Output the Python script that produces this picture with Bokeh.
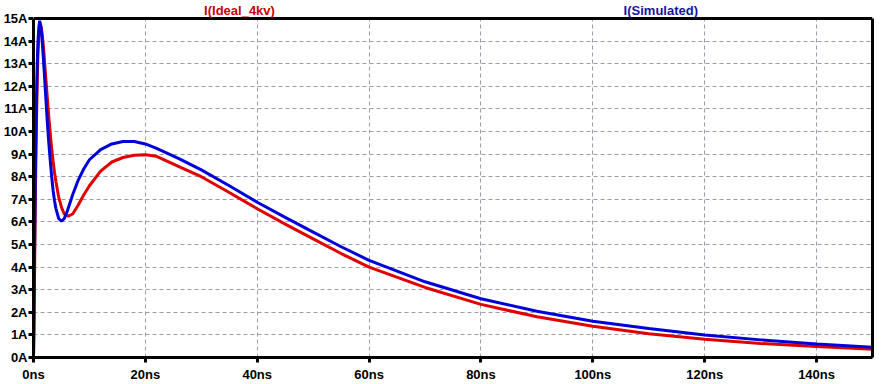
from bokeh.plotting import figure
from bokeh.models import Range1d, FixedTicker, Label, LinearAxis, BoxAnnotation, Span
from bokeh.embed import file_html
from bokeh.resources import INLINE

# time in ns, current in A
t_sim = [0, 0.1, 0.2, 0.35, 0.5, 0.65, 0.8, 0.95, 1.1, 1.3, 1.5, 1.75, 2.0, 2.25, 2.5, 2.75, 3.0, 3.25,
         3.5, 3.75, 4.0, 4.5, 5.0, 5.5, 6.0, 7.0, 8.0, 9.0, 10, 12, 14, 16, 18, 20, 22, 26, 30, 35,
         40, 45, 50, 55, 60, 70, 80, 90, 100, 110, 120, 130, 140, 150]
i_sim = [0, 2.5, 5.0, 8.5, 11.0, 12.8, 14.0, 14.6, 14.9, 14.7, 14.2, 13.3, 12.3, 11.3, 10.3, 9.45, 8.7, 8.0,
         7.4, 6.95, 6.6, 6.15, 6.03, 6.15, 6.45, 7.2, 7.85, 8.35, 8.75, 9.2, 9.45, 9.56, 9.56, 9.45, 9.25, 8.8, 8.3, 7.6,
         6.87, 6.2, 5.55, 4.9, 4.3, 3.35, 2.6, 2.05, 1.6, 1.28, 1.0, 0.78, 0.6, 0.45]

t_ideal = [0, 0.1, 0.2, 0.35, 0.5, 0.65, 0.8, 1.0, 1.2, 1.4, 1.6, 1.8, 2.0, 2.25, 2.5, 2.75, 3.0, 3.25, 3.5,
           3.75, 4.0, 4.5, 5.0, 5.5, 6.2, 7.0, 8.0, 9.0, 10, 12, 14, 16, 18, 20, 22, 26, 30, 35,
           40, 45, 50, 55, 60, 70, 80, 90, 100, 110, 120, 130, 140, 150]
i_ideal = [0, 1.5, 4.0, 7.5, 10.0, 12.0, 13.5, 14.3, 14.7, 14.6, 14.2, 13.7, 13.0, 12.2, 11.4, 10.6, 9.9, 9.25, 8.7,
           8.2, 7.8, 7.1, 6.65, 6.35, 6.25, 6.35, 6.75, 7.2, 7.6, 8.25, 8.65, 8.85, 8.95, 8.97, 8.9, 8.45, 8.0, 7.3,
           6.58, 5.9, 5.25, 4.6, 4.0, 3.1, 2.35, 1.8, 1.38, 1.05, 0.81, 0.62, 0.49, 0.36]

x_ticks = [0, 20, 40, 60, 80, 100, 120, 140]
x_tick_labels = ["0ns", "20ns", "40ns", "60ns", "80ns", "100ns", "120ns", "140ns"]
y_ticks = list(range(0, 16))
y_tick_labels = [f"{v}A" for v in y_ticks]

series_names = ["I(Ideal_4kv)", "I(Simulated)"]
series_label_x = [30.5, 105.5]   # left edge of each trace name, in ns

FONT = "Liberation Sans"
Y_TOP = 15
# the frame is extended above 15 A so that the trace names sit above the plot border
HEADROOM = 18 / 22.6

p = figure(width=893, height=384, output_backend="svg", toolbar_location=None,
           x_range=Range1d(0, 150), y_range=Range1d(0, Y_TOP + HEADROOM),
           min_border_left=32, min_border_top=0, min_border_right=21, min_border_bottom=27,
           background_fill_color="white", border_fill_color="white")

p.outline_line_color = None

for ax in (p.xaxis[0], p.yaxis[0]):
    ax.axis_line_color = "black"
    ax.axis_line_width = 3
    ax.major_tick_line_color = "black"
    ax.major_tick_line_width = 3
    ax.major_tick_out = 5
    ax.major_tick_in = 0
    ax.minor_tick_line_color = None
    ax.major_label_text_font = FONT
    ax.major_label_text_font_style = "bold"
    ax.major_label_text_font_size = "13px"
    ax.major_label_text_color = "black"

p.xaxis.ticker = FixedTicker(ticks=x_ticks)
p.xaxis.major_label_overrides = {v: s for v, s in zip(x_ticks, x_tick_labels)}
p.xaxis.major_label_standoff = 4
p.yaxis.ticker = FixedTicker(ticks=y_ticks)
p.yaxis.major_label_overrides = {v: s for v, s in zip(y_ticks, y_tick_labels)}
p.yaxis.major_label_standoff = 1
p.yaxis.bounds = (0, Y_TOP)

# right border of the plot box
right_ax = LinearAxis(bounds=(0, Y_TOP), ticker=FixedTicker(ticks=[]),
                      axis_line_color="black", axis_line_width=3,
                      major_tick_line_color=None, minor_tick_line_color=None,
                      major_label_text_font_size="0px")
p.add_layout(right_ax, "right")

for g in (p.xgrid[0], p.ygrid[0]):
    g.grid_line_color = "#a09aa8"
    g.grid_line_width = 1
    g.grid_line_dash = "4 3"

p.line(t_ideal, i_ideal, line_color="#e00000", line_width=3)
p.line(t_sim, i_sim, line_color="#0000d8", line_width=3)

# blank strip above the plot box and its top border
p.add_layout(BoxAnnotation(bottom=Y_TOP, fill_color="white", fill_alpha=1, line_color=None))
p.add_layout(Span(location=Y_TOP, dimension="width", line_color="black", line_width=3))

label_colors = ["#c80000", "#1414a0"]
for name, lx, col in zip(series_names, series_label_x, label_colors):
    p.add_layout(Label(x=lx, y=Y_TOP, y_offset=8, text=name, text_color=col,
                       text_font=FONT, text_font_style="bold", text_font_size="13px",
                       text_baseline="alphabetic"))

open("out.html", "w").write(file_html(p, INLINE))
